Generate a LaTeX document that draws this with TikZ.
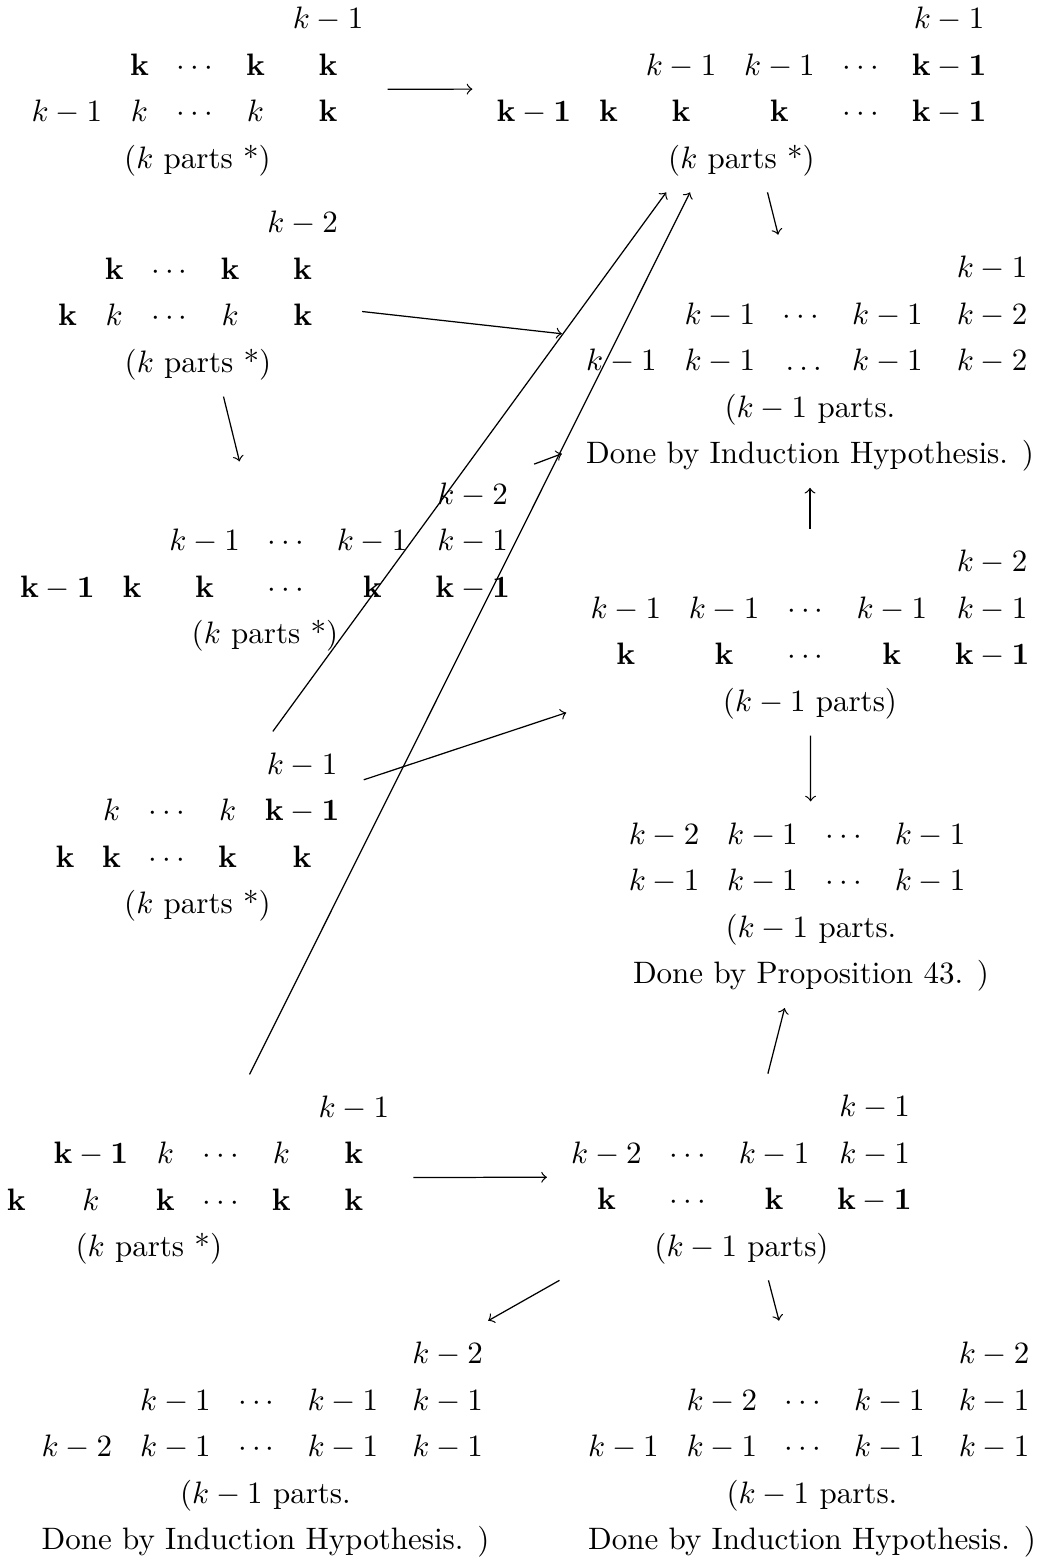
\documentclass[tikz,border=0pt]{standalone}
\usepackage{amsmath}
\newcommand{\Unit}{0.3226pt}
\newcommand{\bk}{\mathbf{k}}
\newcommand{\bkm}{\mathbf{k-1}}
\newcommand{\Kparts}{(k\text{ parts *})}
\newcommand{\Lparts}{(k-1\text{ parts})}
\newcommand{\Lopen}{(k-1\text{ parts.}}
\renewcommand{\arraystretch}{1.25}
\setlength{\arraycolsep}{4.5pt}

\begin{document}
\begin{tikzpicture}[x=\Unit, y=-\Unit, >=to,
  part/.style={inner sep=0.3333em, outer sep=0pt},
  goes/.style={->, line width=0.4pt}]

  \useasboundingbox (0,0) rectangle (1043,1562);

  % ---- the left column: every case that still has k parts ----------------
  \node[part] (kA) at (197.5,89.25) {$\begin{array}{ccccc}
      &&&& k-1\\
      & \bk & \cdots & \bk & \bk\\
      k-1 & k & \cdots & k & \bk\\
      \multicolumn{5}{c}{\Kparts}
    \end{array}$};
  \node[part] (kB) at (198,293.25) {$\begin{array}{ccccc}
      &&&& k-2\\
      & \bk & \cdots & \bk & \bk\\
      \bk & k & \cdots & k & \bk\\
      \multicolumn{5}{c}{\Kparts}
    \end{array}$};
  \node[part] (kC) at (265,564.75) {$\begin{array}{cccccc}
      &&&&& k-2\\
      && k-1 & \cdots & k-1 & k-1\\
      \bkm & \bk & \bk & \cdots & \bk & \bkm\\
      \multicolumn{6}{c}{\Kparts}
    \end{array}$};
  \node[part] (kD) at (197.5,834.75) {$\begin{array}{ccccc}
      &&&& k-1\\
      & k & \cdots & k & \bkm\\
      \bk & \bk & \cdots & \bk & \bk\\
      \multicolumn{5}{c}{\Kparts}
    \end{array}$};
  \node[part] (kE) at (198,1177.75) {$\begin{array}{cccccc}
      &&&&& k-1\\
      & \bkm & k & \cdots & k & \bk\\
      \bk & k & \bk & \cdots & \bk & \bk\\
      & \multicolumn{3}{c}{\Kparts} &&
    \end{array}$};

  % ---- the right column: where each case is sent -------------------------
  \node[part] (kTop) at (741.5,89) {$\begin{array}{cccccc}
      &&&&& k-1\\
      && k-1 & k-1 & \cdots & \bkm\\
      \bkm & \bk & \bk & \bk & \cdots & \bkm\\
      \multicolumn{6}{c}{\Kparts}
    \end{array}$};
  \node[part] (ihTop) at (810,361.25) {$\begin{array}{ccccc}
      &&&& k-1\\
      & k-1 & \cdots & k-1 & k-2\\
      k-1 & k-1 & \ldots & k-1 & k-2\\
      \multicolumn{5}{c}{\Lopen}\\
      \multicolumn{5}{c}{\text{Done by Induction Hypothesis. )}}
    \end{array}$};
  \node[part] (kmMid) at (810,632.25) {$\begin{array}{ccccc}
      &&&& k-2\\
      k-1 & k-1 & \cdots & k-1 & k-1\\
      \bk & \bk & \cdots & \bk & \bkm\\
      \multicolumn{5}{c}{\Lparts}
    \end{array}$};
  \node[part] (prop) at (811,904.75) {$\begin{array}{ccccc}
      k-2 & k-1 & \cdots & k-1 & \\
      k-1 & k-1 & \cdots & k-1 & \\
      \multicolumn{5}{c}{\Lopen}\\
      \multicolumn{5}{c}{\text{Done by Proposition 43. )}}
    \end{array}$};
  \node[part] (kmLow) at (741.5,1177) {$\begin{array}{cccc}
      &&& k-1\\
      k-2 & \cdots & k-1 & k-1\\
      \bk & \cdots & \bk & \bkm\\
      \multicolumn{4}{c}{\Lparts}
    \end{array}$};

  % ---- the two leaves at the bottom --------------------------------------
  \node[part] (ihLeft) at (265.5,1447.25) {$\begin{array}{ccccc}
      &&&& k-2\\
      & k-1 & \cdots & k-1 & k-1\\
      k-2 & k-1 & \cdots & k-1 & k-1\\
      \multicolumn{5}{c}{\Lopen}\\
      \multicolumn{5}{c}{\text{Done by Induction Hypothesis. )}}
    \end{array}$};
  \node[part] (ihRight) at (812,1447.25) {$\begin{array}{ccccc}
      &&&& k-2\\
      & k-2 & \cdots & k-1 & k-1\\
      k-1 & k-1 & \cdots & k-1 & k-1\\
      \multicolumn{5}{c}{\Lopen}\\
      \multicolumn{5}{c}{\text{Done by Induction Hypothesis. )}}
    \end{array}$};

  % ---- arrows, centre to centre, cut at the borders ----------------------
  \draw[goes] (kA) -- (kTop);
  \draw[goes] (kTop) -- (ihTop);
  \draw[goes] (kB) -- (ihTop);
  \draw[goes] (kB) -- (kC);
  \draw[goes] (kC) -- (ihTop);
  \draw[goes] (kD) -- (kTop);
  \draw[goes] (kE) -- (kTop);
  \draw[goes] (kD) -- (kmMid);
  \draw[goes] (kmMid) -- (ihTop);
  \draw[goes] (kmMid) -- (prop);
  \draw[goes] (kmLow) -- (prop);
  \draw[goes] (kE) -- (kmLow);
  \draw[goes] (kmLow) -- (ihLeft);
  \draw[goes] (kmLow) -- (ihRight);

\end{tikzpicture}
\end{document}
